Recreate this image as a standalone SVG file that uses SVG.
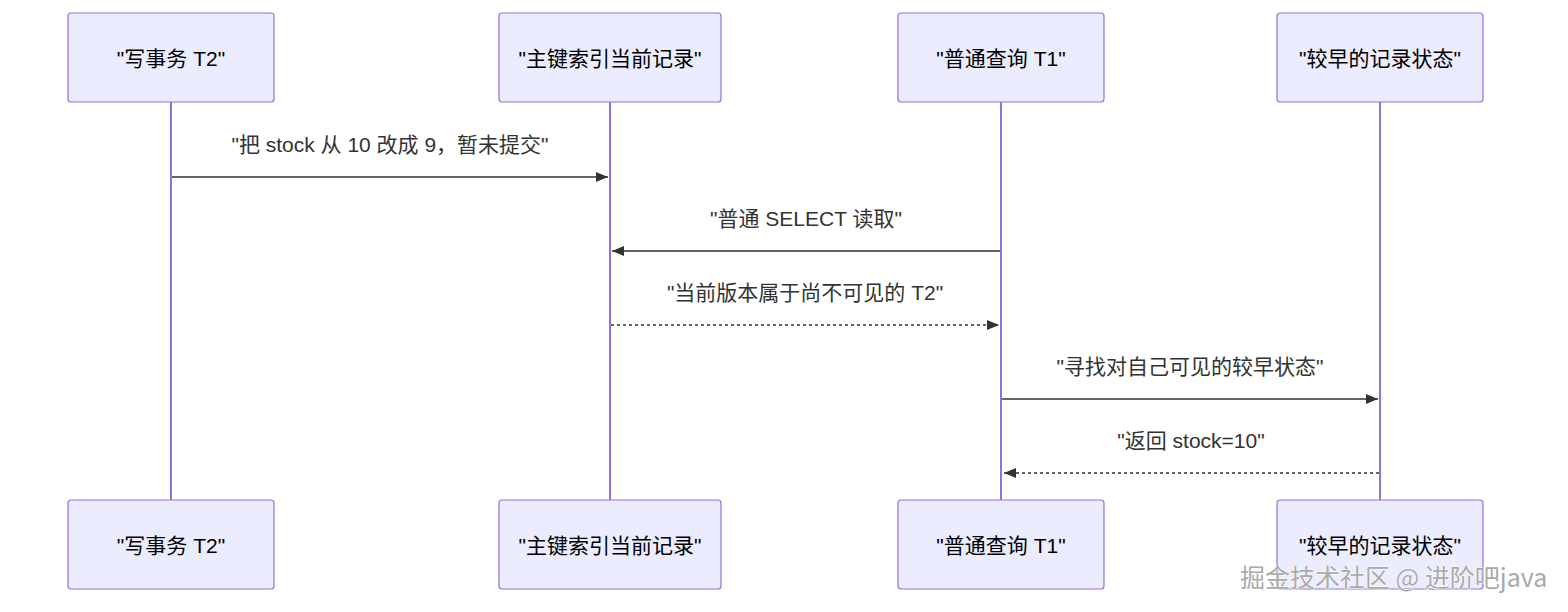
<svg xmlns="http://www.w3.org/2000/svg" width="1568" height="612" viewBox="0 0 1568 612">
<defs>
<style>
.actor{fill:#ECECFF;stroke:#9370DB;stroke-width:1.2}
.alabel{font-family:"Liberation Sans","Noto Sans CJK SC",sans-serif;font-size:21px;fill:#000;text-anchor:middle;dominant-baseline:central}
.life{stroke:#9370DB;stroke-width:2}
.msg{stroke:#333;stroke-width:1.6;fill:none}
.dash{stroke-dasharray:3,3}
.mlabel{font-family:"Liberation Sans","Noto Sans CJK SC",sans-serif;font-size:21px;fill:#333;text-anchor:middle;dominant-baseline:central}
.wm{font-family:"Noto Sans CJK SC",sans-serif;font-size:25px;fill:#aaa;stroke:#fff;stroke-width:1;paint-order:stroke}
</style>
<marker id="ah" viewBox="0 0 12 10" refX="12" refY="5" markerWidth="12" markerHeight="10" markerUnits="userSpaceOnUse" orient="auto">
<path d="M0,0 L12,5 L0,10 z" fill="#333"/>
</marker>
</defs>
<rect width="1568" height="612" fill="#fff"/>
<g id="lifelines">
<line class="life" x1="171" y1="102" x2="171" y2="500"/>
<line class="life" x1="610" y1="102" x2="610" y2="500"/>
<line class="life" x1="1001" y1="102" x2="1001" y2="500"/>
<line class="life" x1="1380" y1="102" x2="1380" y2="500"/>
</g>
<g id="actor-t2-top"><rect class="actor" x="68" y="13" width="206" height="89" rx="3"/><text class="alabel" x="171" y="58">"写事务 T2"</text></g>
<g id="actor-idx-top"><rect class="actor" x="499" y="13" width="222" height="89" rx="3"/><text class="alabel" x="610" y="58">"主键索引当前记录"</text></g>
<g id="actor-t1-top"><rect class="actor" x="898" y="13" width="206" height="89" rx="3"/><text class="alabel" x="1001" y="58">"普通查询 T1"</text></g>
<g id="actor-old-top"><rect class="actor" x="1277" y="13" width="206" height="89" rx="3"/><text class="alabel" x="1380" y="58">"较早的记录状态"</text></g>
<g id="actor-t2-bottom"><rect class="actor" x="68" y="500" width="206" height="89" rx="3"/><text class="alabel" x="171" y="545">"写事务 T2"</text></g>
<g id="actor-idx-bottom"><rect class="actor" x="499" y="500" width="222" height="89" rx="3"/><text class="alabel" x="610" y="545">"主键索引当前记录"</text></g>
<g id="actor-t1-bottom"><rect class="actor" x="898" y="500" width="206" height="89" rx="3"/><text class="alabel" x="1001" y="545">"普通查询 T1"</text></g>
<g id="actor-old-bottom"><rect class="actor" x="1277" y="500" width="206" height="89" rx="3"/><text class="alabel" x="1380" y="545">"较早的记录状态"</text></g>
<g id="connectors">
<line class="msg" x1="172" y1="177" x2="608" y2="177" marker-end="url(#ah)"/>
<text class="mlabel" x="390" y="144">"把 stock 从 10 改成 9，暂未提交"</text>
<line class="msg" x1="1000" y1="251" x2="612" y2="251" marker-end="url(#ah)"/>
<text class="mlabel" x="806" y="218">"普通 SELECT 读取"</text>
<line class="msg dash" x1="611" y1="325" x2="999" y2="325" marker-end="url(#ah)"/>
<text class="mlabel" x="805" y="292">"当前版本属于尚不可见的 T2"</text>
<line class="msg" x1="1002" y1="399" x2="1378" y2="399" marker-end="url(#ah)"/>
<text class="mlabel" x="1190" y="366">"寻找对自己可见的较早状态"</text>
<line class="msg dash" x1="1379" y1="473" x2="1004" y2="473" marker-end="url(#ah)"/>
<text class="mlabel" x="1191" y="440">"返回 stock=10"</text>
</g>
<text class="wm" x="1240" y="587">掘金技术社区 @ 进阶吧java</text>
</svg>
